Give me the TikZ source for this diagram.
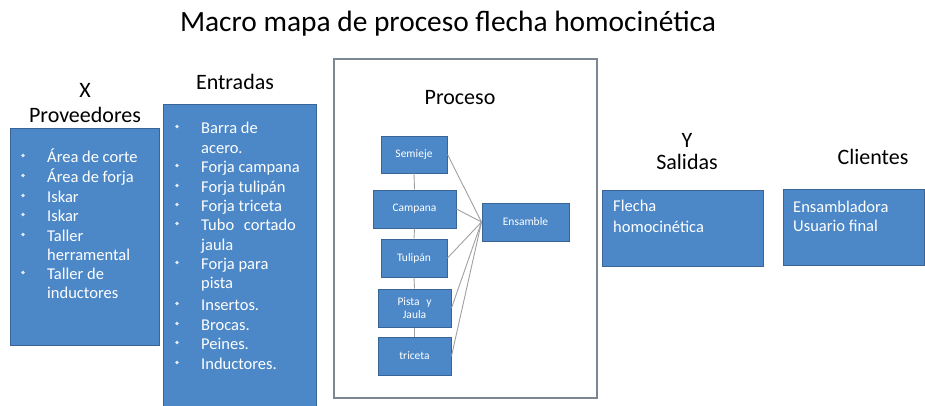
\documentclass[tikz,border=0pt]{standalone}
\usepackage{fontspec}
\setmainfont{Carlito}
\definecolor{boxblue}{RGB}{76,136,200}
\definecolor{boxedge}{RGB}{58,100,150}
\definecolor{framegray}{RGB}{125,135,148}
\definecolor{linegray}{RGB}{160,160,160}
\definecolor{bulletwhite}{RGB}{225,235,248}
\tikzset{
  bluebox/.style={draw=boxedge, fill=boxblue, line width=1pt, inner sep=0pt},
  smallbox/.style={bluebox, text=white, font=\fontsize{11.5}{13}\selectfont, align=center},
  header/.style={anchor=base, inner sep=0pt, font=\fontsize{22}{24}\selectfont},
  listtext/.style={anchor=base west, inner sep=0pt, text=white, font=\fontsize{16.5}{19.5}\selectfont},
  bulletdot/.style={circle, fill=bulletwhite, inner sep=0pt, minimum size=3.6pt},
  link/.style={draw=linegray, line width=0.9pt},
}
\begin{document}
\begin{tikzpicture}[x=1pt,y=-1pt]
\useasboundingbox (0,0) rectangle (925,405);
% title
\node[anchor=base, inner sep=0pt, font=\fontsize{29.4}{31}\selectfont] (title) at (448,31) {Macro mapa de proceso flecha homocinética};
% headers
\node[header] (hx) at (85,97) {X};
\node[header] (hprov) at (85,122) {Proveedores};
\node[header] (hent) at (235,89) {Entradas};
\node[header] (hy) at (687,147) {Y};
\node[header] (hsal) at (687,169) {Salidas};
\node[header] (hcli) at (873,164) {Clientes};
% Proveedores box
\path[bluebox] (10,128) rectangle (159,345);
\foreach \t/\y/\b [count=\i] in {Área de corte/157/1, Área de forja/177/1, Iskar/197/1, Iskar/216/1, Taller/236/1, herramental/255/0, Taller de/274/1, inductores/293/0}{
  \node[listtext] (pv\i) at (47,\y+5.5) {\t};
  \ifnum\b=1 \node[bulletdot] (pvb\i) at (23,\y-1.5) {}; \fi
}
% Entradas box
\path[bluebox] (163,104) rectangle (316,410);
\foreach \t/\y/\b [count=\i] in {Barra de/128/1, acero./148/0, Forja campana/167/1, Forja tulipán/187/1, Forja triceta/206/1, Tubo\hspace{6pt} cortado/225/1, jaula/245/0, Forja para/264/1, pista/283/0, Insertos./305/1, Brocas./325/1, Peines./344/1, Inductores./364/1}{
  \node[listtext] (en\i) at (201,\y+5.5) {\t};
  \ifnum\b=1 \node[bulletdot] (enb\i) at (177,\y-1.5) {}; \fi
}
% Proceso frame
\draw[draw=framegray, line width=1.3pt] (334,59) rectangle (597,398);
\node[header] (hproc) at (460,104) {Proceso};
% small process boxes
\node[smallbox, minimum width=66pt, minimum height=37pt] (semi) at (414,154.5) {Semieje};
\node[smallbox, minimum width=83pt, minimum height=38pt] (camp) at (414.5,209) {Campana};
\node[smallbox, minimum width=66pt, minimum height=38pt] (tuli) at (414,258) {Tulipán};
\node[smallbox, minimum width=73pt, minimum height=38pt] (pist) at (414.5,308) {Pista\hspace{4pt} y\\Jaula};
\node[smallbox, minimum width=73pt, minimum height=38pt] (tric) at (414.5,356) {triceta};
\node[smallbox, minimum width=87pt, minimum height=38pt] (ens) at (525.5,222) {Ensamble};
% connectors
\draw[link] (semi.south) -- (camp.north);
\draw[link] (camp.south) -- (tuli.north);
\draw[link] (tuli.south) -- (pist.north);
\draw[link] (pist.south) -- (tric.north);
\foreach \n in {semi,camp,tuli,pist,tric}{
  \draw[link] (\n.east) -- (ens.west);
}
% Salidas box
\path[bluebox] (602,190) rectangle (763,266);
\node[listtext] (s1) at (613,211) {Flecha};
\node[listtext] (s2) at (613,232) {homocinética};
% Clientes box
\path[bluebox] (783,189) rectangle (924,265);
\node[listtext] (c1) at (793,212) {Ensambladora};
\node[listtext] (c2) at (793,231) {Usuario final};
\end{tikzpicture}
\end{document}
